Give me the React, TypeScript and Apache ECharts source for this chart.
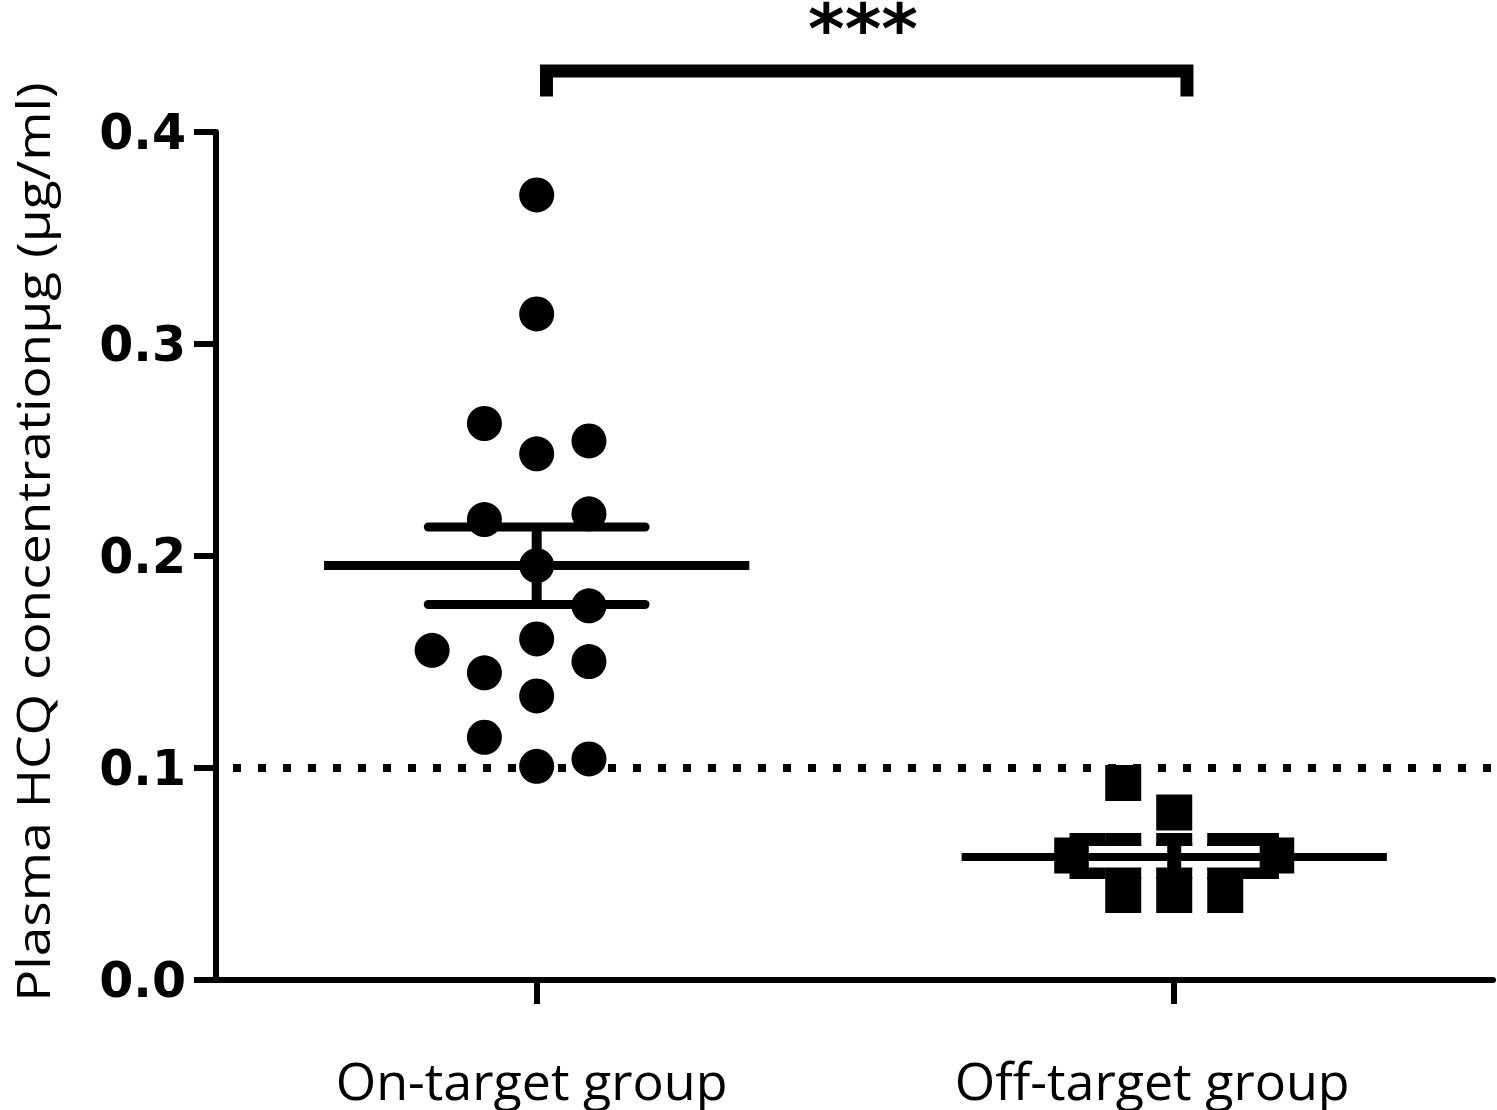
import React, { useEffect, useRef } from "react";
import * as echarts from "echarts";

// ---------- data ----------
const categories = ["On-target group", "Off-target group"];
const groupX = [1, 3];
const labelX = [0.984, 2.931];
const yTicks = [0, 0.1, 0.2, 0.3, 0.4];

// column offsets (in column steps) and values
const onTargetCols = [0, 0, -1, 0, 1, -1, 1, 0, 1, 0, -2, -1, 1, 0, -1, 0, 1];
const onTargetValues = [
  0.3703, 0.3142, 0.2625, 0.2482, 0.2543, 0.2172, 0.2199, 0.1955, 0.1765,
  0.1609, 0.1555, 0.1449, 0.1502, 0.134, 0.1145, 0.1008, 0.1043,
];
const offTargetCols = [-1, 0, -1, 0, 1, -2, 2, -1.7, -1, 0, 1, 1.7, -1.7, -1, 0, 1, 1.7];
const offTargetValues = [
  0.0929, 0.079, 0.0401, 0.0401, 0.0401, 0.0587, 0.0587, 0.0608, 0.0608,
  0.0608, 0.0608, 0.0608, 0.0561, 0.0561, 0.0561, 0.0561, 0.0561,
];
const onStep = 0.164;
const offStep = 0.16;

const onMean = 0.1955;
const onSemHigh = 0.2137;
const onSemLow = 0.1771;
const offMean = 0.058;
const offStripeHigh = 0.0615;
const offStripeLow = 0.0547;

const threshold = 0.1;
const bracketY = 0.4288;
const bracketLegY = 0.4168;
const bracketX = [1.0307, 3.04];
const significance = "***";

const X_MIN = -0.006;
const X_MAX = 4.0;

const meanHalf = 0.667;
const semHalf = 0.34;
const stripeHalf = 0.268;
const stripeGap = 0.022;

function seg(name: string, pts: number[][], color: string, width: number, z: number, extra: any = {}) {
  return {
    name,
    type: "line",
    data: pts,
    symbol: "none",
    showSymbol: false,
    silent: true,
    z,
    lineStyle: { color, width, cap: "butt", join: "miter", opacity: 1, ...(extra.lineStyle || {}) },
    ...extra.rest,
  };
}

export default function App() {
  const ref = useRef<HTMLDivElement>(null);
  useEffect(() => {
    if (!ref.current) return;
    const chart = echarts.init(ref.current, undefined, { renderer: "svg" });
    const g1 = groupX[0];
    const g2 = groupX[1];
    const option: any = {
      animation: false,
      backgroundColor: "#fff",
      grid: { left: 216, top: 132, width: 1277, height: 848, containLabel: false },
      xAxis: {
        type: "value",
        min: X_MIN,
        max: X_MAX,
        splitLine: { show: false },
        axisLine: { show: true, onZero: false, lineStyle: { color: "#000", width: 6 } },
        axisTick: { show: true, customValues: groupX, length: 24, lineStyle: { color: "#000", width: 6 } },
        axisLabel: {
          show: true,
          customValues: labelX,
          margin: 73,
          fontSize: 52,
          lineHeight: 52,
          fontFamily: "Open Sans",
          color: "#000",
          formatter: (v: number) => {
            let best = 0;
            labelX.forEach((p, i) => {
              if (Math.abs(p - v) < Math.abs(labelX[best] - v)) best = i;
            });
            return categories[best];
          },
        },
      },
      yAxis: {
        type: "value",
        min: 0,
        max: 0.4,
        interval: 0.1,
        splitLine: { show: false },
        axisLine: { show: true, onZero: false, lineStyle: { color: "#000", width: 6 } },
        axisTick: { show: true, length: 22, lineStyle: { color: "#000", width: 6 } },
        axisLabel: {
          margin: 30,
          fontSize: 49,
          fontWeight: "bold",
          fontFamily: "DejaVu Sans",
          color: "#000",
          formatter: (v: number) => v.toFixed(1),
        },
      },
      graphic: [
        {
          type: "text",
          x: 32,
          y: 542,
          rotation: Math.PI / 2,
          scaleX: 1.16,
          style: {
            text: "Plasma HCQ concentrationµg (µg/ml)",
            fontFamily: "Open Sans",
            fontSize: 46,
            fill: "#000",
            align: "center",
            verticalAlign: "middle",
          },
        },
        {
          type: "text",
          x: 863,
          y: 29,
          style: {
            text: significance,
            fontFamily: "DejaVu Sans",
            fontWeight: "bold",
            fontSize: 70,
            lineHeight: 40,
            fill: "#000",
            align: "center",
            verticalAlign: "middle",
          },
        },
      ],
      series: [
        {
          name: "On-target",
          type: "scatter",
          symbol: "circle",
          symbolSize: 35,
          itemStyle: { color: "#000", opacity: 1 },
          z: 3,
          data: onTargetValues.map((v, i) => [g1 + onTargetCols[i] * onStep, v]),
        },
        {
          name: "Off-target",
          type: "scatter",
          symbol: "rect",
          symbolSize: 36,
          itemStyle: { color: "#000", opacity: 1 },
          z: 3,
          data: offTargetValues.map((v, i) => [g2 + offTargetCols[i] * offStep, v]),
        },
        seg("threshold", [[X_MIN, threshold], [X_MAX, threshold]], "#000", 8, 2, {
          lineStyle: { type: [8, 17], dashOffset: 8 },
        }),
        seg("onMean", [[g1 - meanHalf, onMean], [g1 + meanHalf, onMean]], "#000", 9, 4),
        seg("onSemHigh", [[g1 - semHalf, onSemHigh], [g1 + semHalf, onSemHigh]], "#000", 9, 4, {
          lineStyle: { cap: "round" },
        }),
        seg("onSemLow", [[g1 - semHalf, onSemLow], [g1 + semHalf, onSemLow]], "#000", 9, 4, {
          lineStyle: { cap: "round" },
        }),
        seg("onSemV", [[g1, onSemLow], [g1, onSemHigh]], "#000", 10, 4),
        seg("offStripeHighL", [[g2 - stripeHalf, offStripeHigh], [g2 - stripeGap, offStripeHigh]], "#fff", 7, 5),
        seg("offStripeHighR", [[g2 + stripeGap, offStripeHigh], [g2 + stripeHalf, offStripeHigh]], "#fff", 7, 5),
        seg("offStripeLowL", [[g2 - stripeHalf, offStripeLow], [g2 - stripeGap, offStripeLow]], "#fff", 7, 5),
        seg("offStripeLowR", [[g2 + stripeGap, offStripeLow], [g2 + stripeHalf, offStripeLow]], "#fff", 7, 5),
        seg("offMean", [[g2 - meanHalf, offMean], [g2 + meanHalf, offMean]], "#000", 8, 6),
        seg(
          "bracket",
          [
            [bracketX[0], bracketLegY],
            [bracketX[0], bracketY],
            [bracketX[1], bracketY],
            [bracketX[1], bracketLegY],
          ],
          "#000",
          13,
          4,
          { rest: { clip: false } }
        ),
      ],
    };
    chart.setOption(option);
    return () => chart.dispose();
  }, []);
  return (
    <div
      ref={ref}
      style={{ position: "fixed", left: 0, top: 0, width: 1497, height: 1110, background: "#fff" }}
    />
  );
}
